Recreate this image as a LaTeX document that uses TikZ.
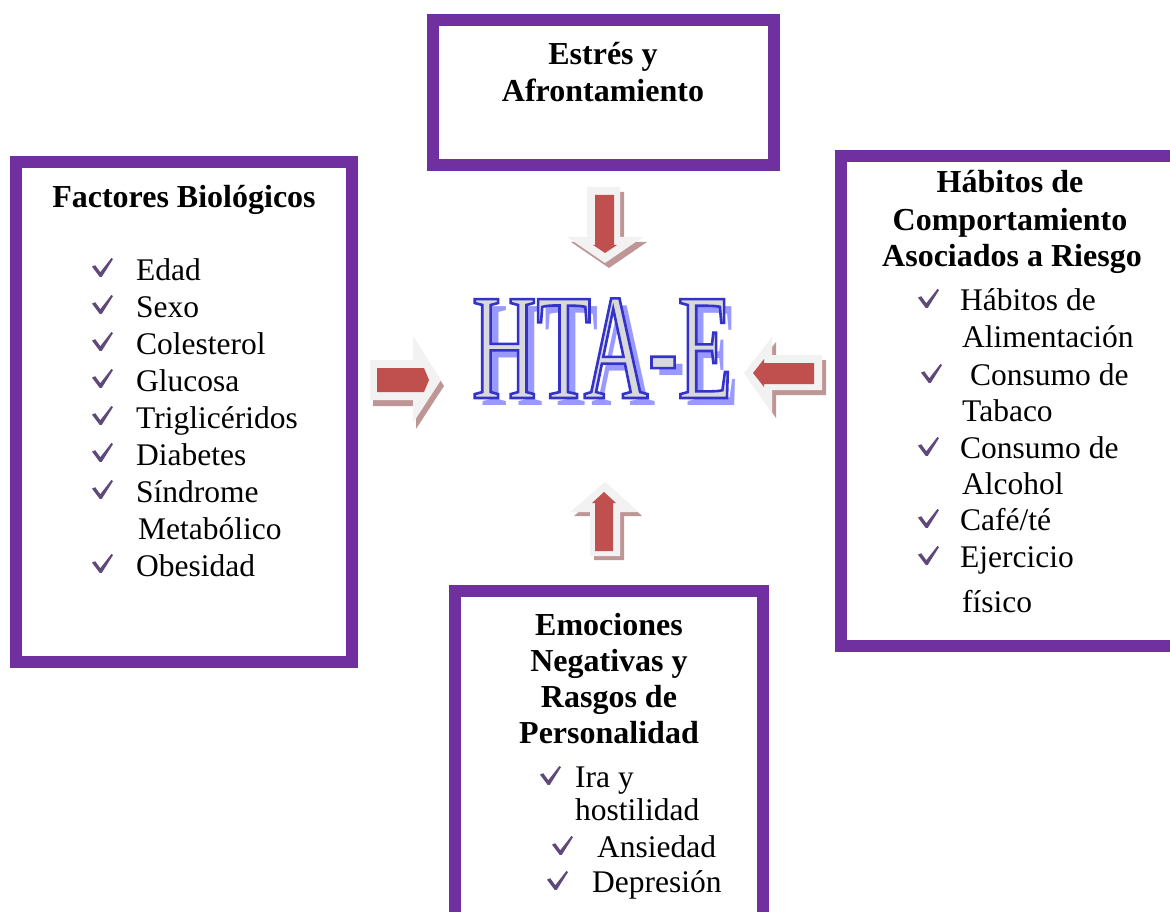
\documentclass[tikz,border=0pt]{standalone}
\usepackage{fontspec}
\setmainfont{Liberation Serif}
\newfontfamily\htafont[FakeStretch=0.59]{Liberation Serif}
\usetikzlibrary{calc}

\definecolor{boxpurple}{HTML}{7030A0}
\definecolor{tickc}{HTML}{5F497A}
\definecolor{arrowred}{HTML}{C0504D}
\definecolor{arrowpale}{HTML}{F2F2F2}
\definecolor{arrowshade}{HTML}{BF9696}
\definecolor{htashade}{HTML}{9999FF}
\definecolor{htafill}{HTML}{D9D9D9}

% condensed display word; the outlined copy is filled grey and stroked blue
\newcommand\htaword{{\htafont\fontsize{151}{151}\selectfont HTA-E}}
\newcommand\htaoutlined{\special{pdf:literal direct 0.2 0.2 0.8 RG 2.6 w 2 Tr}\htaword\special{pdf:literal direct 0 Tr}}

\begin{document}
\begin{tikzpicture}[x=1pt,y=-1pt,
  frame/.style={draw=boxpurple, line width=12pt, fill=white, inner sep=0pt},
  head/.style={font=\bfseries\fontsize{32}{37}\selectfont, anchor=base, inner sep=0pt},
  item/.style={font=\fontsize{31.5}{37}\selectfont, anchor=base west, inner sep=0pt},
  pale/.style={fill=arrowpale},
  shade/.style={fill=arrowshade},
  core/.style={fill=arrowred},
  tick/.pic={\fill[tickc] (0,8.6) .. controls (1.6,7.4) .. (3.2,7.2) -- (8.3,14.2) -- (19.4,0) -- (21,1.1) -- (9.8,18.8) -- (7.6,18.8) -- cycle;}
]
\useasboundingbox (0,0) rectangle (1170,912);
\clip (0,0) rectangle (1170,912);

% ---- framed boxes ----
\node[frame, minimum width=340.5, minimum height=145] (stress) at (603.25,92.5) {};
\node[frame, minimum width=336, minimum height=499.5] (bio) at (184,411.75) {};
\node[frame, minimum width=338.5, minimum height=489] (habits) at (1009.75,401) {};
\node[frame, minimum width=308, minimum height=327.5] (emo) at (609,754.25) {};

% ---- headings ----
\node[head] (stressA) at (603,65) {Estrés y};
\node[head] (stressB) at (603,102) {Afrontamiento};
\node[head] (bioH) at (184,208) {Factores Biológicos};
\node[head] (habA) at (1010,193) {Hábitos de};
\node[head] (habB) at (1010,230) {Comportamiento};
\node[head] (habC) at (1012,266) {Asociados a Riesgo};
\node[head] (emoA) at (609,635) {Emociones};
\node[head] (emoB) at (609,671) {Negativas y};
\node[head] (emoC) at (609,707) {Rasgos de};
\node[head] (emoD) at (609,743) {Personalidad};

% ---- biological factors ----
\foreach \t/\b [count=\k] in {Edad/280, Sexo/317, Colesterol/354, Glucosa/391,
    Triglicéridos/428, Diabetes/465, Síndrome/502, Obesidad/576}{
  \pic (bt\k) at (92,\b-22) {tick};
  \node[item] (bi\k) at (136,\b) {\t};
}
\node[item] (bi9) at (138,539) {Metabólico};

% ---- behaviour habits ----
\node[item] (hi1) at (960,310) {Hábitos de};
\node[item] (hi2) at (962,347) {Alimentación};
\node[item] (hi3) at (970,385) {Consumo de};
\node[item] (hi4) at (962,421) {Tabaco};
\node[item] (hi5) at (960,458) {Consumo de};
\node[item] (hi6) at (962,494) {Alcohol};
\node[item] (hi7) at (960,530) {Café/té};
\node[item] (hi8) at (960,567) {Ejercicio};
\node[item] (hi9) at (962,612) {físico};
\pic (ht1) at (918,289) {tick};
\pic (ht2) at (921,364) {tick};
\pic (ht3) at (918,437) {tick};
\pic (ht4) at (918,509) {tick};
\pic (ht5) at (918,546) {tick};

% ---- emotions ----
\node[item] (ei1) at (575,787) {Ira y};
\node[item] (ei2) at (575,820) {hostilidad};
\node[item] (ei3) at (597,857) {Ansiedad};
\node[item] (ei4) at (592,892) {Depresión};
\pic (et1) at (540,766) {tick};
\pic (et2) at (552,836) {tick};
\pic (et3) at (547,871) {tick};

% ---- block arrows ----
% from the top
\fill[shade, shift={(4,5)}] (587,187) -- (620,187) -- (620,237) -- (643,237) -- (605,263) -- (567,237) -- (587,237) -- cycle;
\fill[pale] (587,187) -- (620,187) -- (620,237) -- (643,237) -- (605,263) -- (567,237) -- (587,237) -- cycle;
\fill[core] (595,195) -- (614,195) -- (614,245) -- (617,245) -- (605,253) -- (593,245) -- (595,245) -- cycle;
% from the left
\fill[shade, shift={(3,6)}] (370,360) -- (413,360) -- (413,336) -- (441,380) -- (413,423) -- (413,400) -- (370,400) -- cycle;
\fill[pale] (370,360) -- (413,360) -- (413,336) -- (441,380) -- (413,423) -- (413,400) -- (370,400) -- cycle;
\fill[core] (377,368) -- (424,368) -- (429,380) -- (424,392) -- (377,392) -- cycle;
% from the right
\fill[shade, shift={(4,5)}] (744,373) -- (772,337) -- (772,355) -- (822,355) -- (822,390) -- (772,390) -- (772,413) -- cycle;
\fill[pale] (744,373) -- (772,337) -- (772,355) -- (822,355) -- (822,390) -- (772,390) -- (772,413) -- cycle;
\fill[core] (753,373) -- (764,359) -- (764,363) -- (814,363) -- (814,384) -- (764,384) -- (764,387) -- cycle;
% from below
\fill[shade, shift={(4,4)}] (605,482) -- (638,512) -- (620,512) -- (620,556) -- (590,556) -- (590,512) -- (570,512) -- cycle;
\fill[pale] (605,482) -- (638,512) -- (620,512) -- (620,556) -- (590,556) -- (590,512) -- (570,512) -- cycle;
\fill[core] (604,492) -- (616,503) -- (613,503) -- (613,551) -- (595,551) -- (595,503) -- (592,503) -- cycle;

% ---- central label: soft shadow, then the outlined word ----
\node[anchor=base west, inner sep=0pt, text=htashade] (htashadow) at (480,405) {\htaword};
\node[anchor=base west, inner sep=0pt, text=htafill] (hta) at (472,398) {\htaoutlined};
\end{tikzpicture}
\end{document}
